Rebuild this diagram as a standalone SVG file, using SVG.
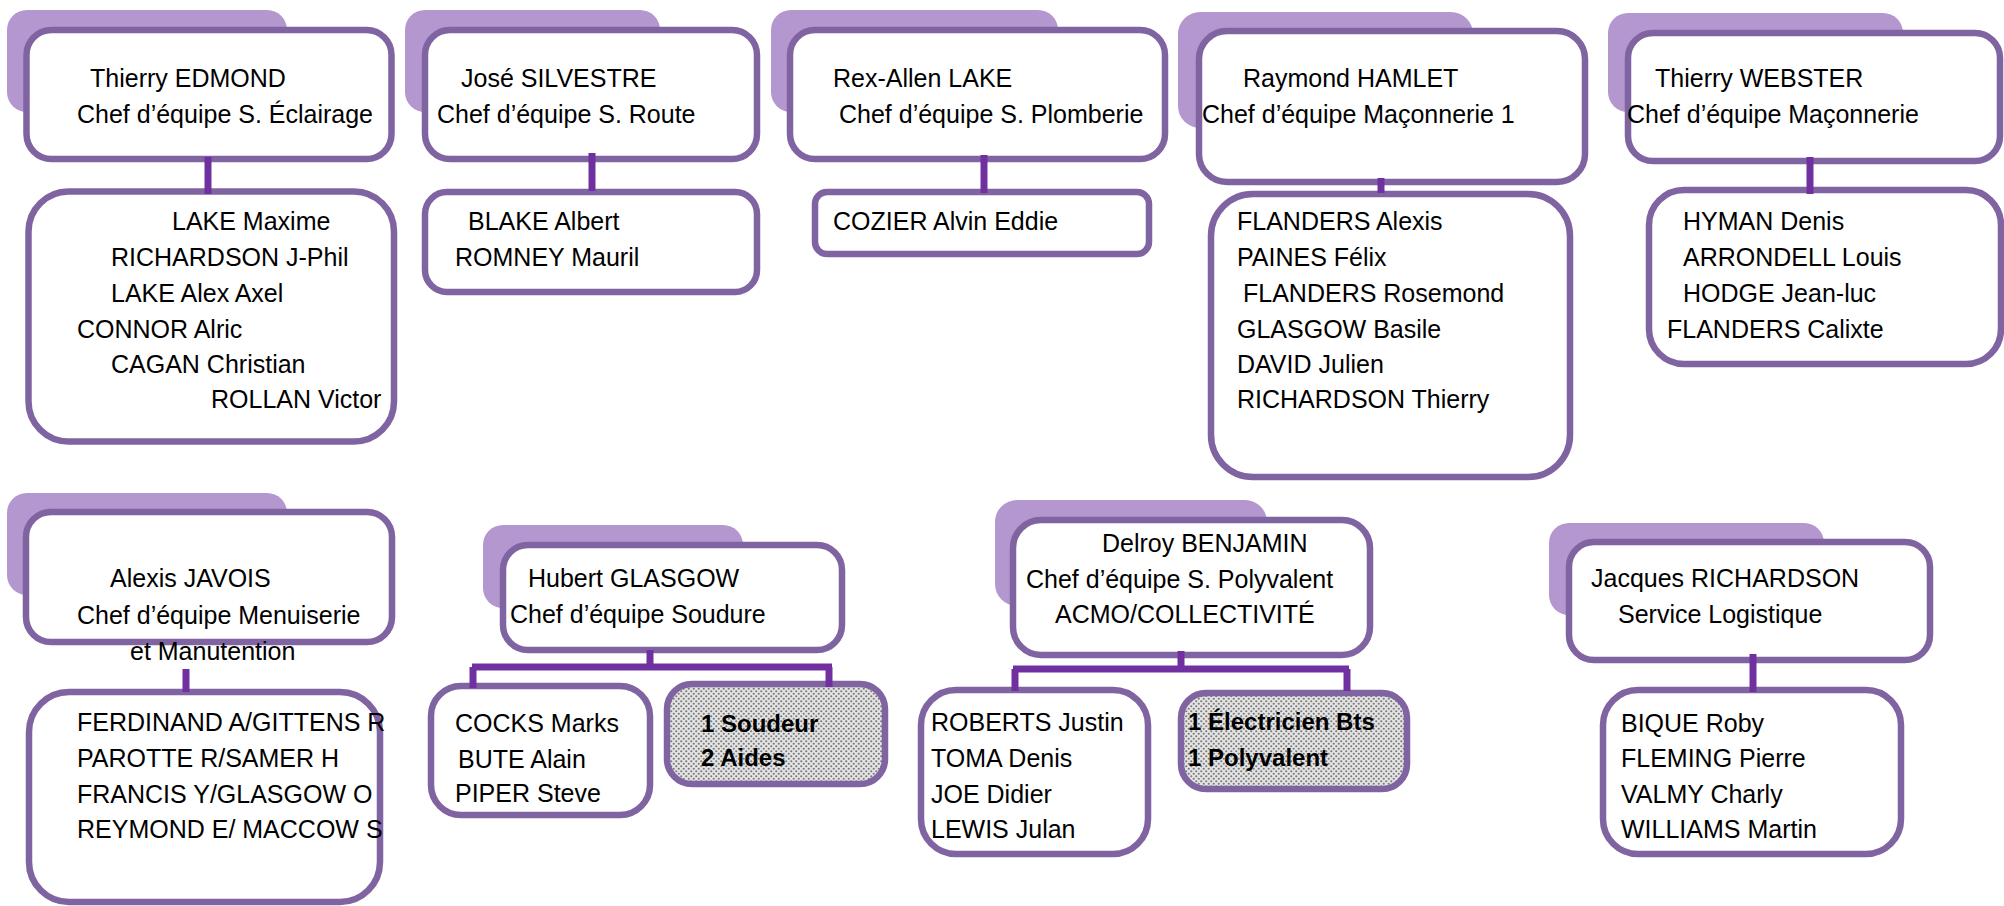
<svg xmlns="http://www.w3.org/2000/svg" width="2004" height="906" viewBox="0 0 2004 906">
<style>
.shadow{fill:#B497CE}
.box{fill:#fff;stroke:#8064A2;stroke-width:6.5}
.pat{fill:url(#dots);stroke:#8064A2;stroke-width:6.5}
.conn{stroke:#7030A0;stroke-width:7;fill:none}
text{font-family:"Liberation Sans",Arial,sans-serif;font-size:25px;fill:#000}
.b{font-weight:bold;font-size:24px}
</style>
<defs>
<pattern id="dots" width="5" height="5" patternUnits="userSpaceOnUse">
<rect width="5" height="5" fill="#e4e4e4"/>
<circle cx="1.25" cy="1.25" r="1.1" fill="#7a7a7a"/>
<circle cx="3.75" cy="3.75" r="1.1" fill="#7a7a7a"/>
</pattern>
</defs>
<rect width="2004" height="906" fill="#fff"/>

<g id="edmond">
<rect class="shadow" x="7" y="10" width="280" height="102" rx="20"/>
<rect class="box" x="26.5" y="30" width="365" height="129" rx="25"/>
<text x="90" y="87">Thierry EDMOND</text>
<text x="77" y="123">Chef d’équipe S. Éclairage</text>
</g>
<g id="edmond-team">
<rect class="box" x="28.5" y="191.5" width="365.5" height="250" rx="40"/>
<text x="172" y="230">LAKE Maxime</text>
<text x="111" y="266">RICHARDSON J-Phil</text>
<text x="111" y="302">LAKE Alex Axel</text>
<text x="77" y="338">CONNOR Alric</text>
<text x="111" y="373">CAGAN Christian</text>
<text x="211" y="408">ROLLAN Victor</text>
</g>

<g id="silvestre">
<rect class="shadow" x="405" y="10" width="255" height="102" rx="20"/>
<rect class="box" x="425" y="30" width="332" height="129" rx="25"/>
<text x="461" y="87">José SILVESTRE</text>
<text x="437" y="123">Chef d’équipe S. Route</text>
</g>
<g id="silvestre-team">
<rect class="box" x="425" y="192" width="332" height="100" rx="22"/>
<text x="468" y="230">BLAKE Albert</text>
<text x="455" y="266">ROMNEY Mauril</text>
</g>

<g id="lake">
<rect class="shadow" x="771" y="10" width="287" height="102" rx="20"/>
<rect class="box" x="790" y="30" width="375" height="129" rx="25"/>
<text x="833" y="87">Rex-Allen LAKE</text>
<text x="839" y="123">Chef d’équipe S. Plomberie</text>
</g>
<g id="lake-team">
<rect class="box" x="815" y="192" width="334" height="62" rx="12"/>
<text x="833" y="230">COZIER Alvin Eddie</text>
</g>

<g id="hamlet">
<rect class="shadow" x="1178" y="12" width="295" height="116" rx="22"/>
<rect class="box" x="1199" y="31" width="386" height="151" rx="28"/>
<text x="1243" y="87">Raymond HAMLET</text>
<text x="1202" y="123">Chef d’équipe Maçonnerie 1</text>
</g>
<g id="hamlet-team">
<rect class="box" x="1211" y="194" width="359" height="283" rx="42"/>
<text x="1237" y="230">FLANDERS Alexis</text>
<text x="1237" y="266">PAINES Félix</text>
<text x="1243" y="302">FLANDERS Rosemond</text>
<text x="1237" y="338">GLASGOW Basile</text>
<text x="1237" y="373">DAVID Julien</text>
<text x="1237" y="408">RICHARDSON Thierry</text>
</g>

<g id="webster">
<rect class="shadow" x="1608" y="13" width="295" height="99" rx="20"/>
<rect class="box" x="1628" y="33" width="372" height="128" rx="25"/>
<text x="1655" y="87">Thierry WEBSTER</text>
<text x="1627" y="123">Chef d’équipe Maçonnerie</text>
</g>
<g id="webster-team">
<rect class="box" x="1649" y="190" width="352" height="174" rx="35"/>
<text x="1683" y="230">HYMAN Denis</text>
<text x="1683" y="266">ARRONDELL Louis</text>
<text x="1683" y="302">HODGE Jean-luc</text>
<text x="1667" y="338">FLANDERS Calixte</text>
</g>

<g id="javois">
<rect class="shadow" x="7" y="493" width="280" height="102" rx="20"/>
<rect class="box" x="26" y="512" width="366" height="130" rx="25"/>
<text x="110" y="587">Alexis JAVOIS</text>
<text x="77" y="624">Chef d’équipe Menuiserie</text>
<text x="130" y="660">et Manutention</text>
</g>
<g id="javois-team">
<rect class="box" x="29" y="692" width="351" height="210" rx="40"/>
<text x="77" y="731">FERDINAND A/GITTENS R</text>
<text x="77" y="767">PAROTTE R/SAMER H</text>
<text x="77" y="803">FRANCIS Y/GLASGOW O</text>
<text x="77" y="838">REYMOND E/ MACCOW S</text>
</g>

<g id="glasgow">
<rect class="shadow" x="483" y="525" width="260" height="83" rx="20"/>
<rect class="box" x="503" y="545" width="339" height="105" rx="25"/>
<text x="528" y="587">Hubert GLASGOW</text>
<text x="510" y="623">Chef d’équipe Soudure</text>
</g>
<g id="glasgow-team">
<rect class="box" x="431" y="686" width="219" height="129" rx="30"/>
<text x="455" y="732">COCKS Marks</text>
<text x="458" y="768">BUTE Alain</text>
<text x="455" y="802">PIPER Steve</text>
</g>
<g id="glasgow-needs">
<rect class="pat" x="667" y="684" width="218" height="100" rx="25"/>
<text class="b" x="701" y="732">1 Soudeur</text>
<text class="b" x="701" y="766">2 Aides</text>
</g>

<g id="benjamin">
<rect class="shadow" x="995" y="500" width="272" height="106" rx="22"/>
<rect class="box" x="1013" y="520" width="357" height="135" rx="28"/>
<text x="1102" y="552">Delroy BENJAMIN</text>
<text x="1026" y="588">Chef d’équipe S. Polyvalent</text>
<text x="1055" y="623">ACMO/COLLECTIVITÉ</text>
</g>
<g id="benjamin-team">
<rect class="box" x="921" y="690" width="227" height="164" rx="35"/>
<text x="931" y="731">ROBERTS Justin</text>
<text x="931" y="767">TOMA Denis</text>
<text x="931" y="803">JOE Didier</text>
<text x="931" y="838">LEWIS Julan</text>
</g>
<g id="benjamin-needs">
<rect class="pat" x="1181" y="693" width="226" height="96" rx="25"/>
<text class="b" x="1188" y="730">1 Électricien Bts</text>
<text class="b" x="1188" y="766">1 Polyvalent</text>
</g>

<g id="richardson">
<rect class="shadow" x="1549" y="523" width="275" height="92" rx="20"/>
<rect class="box" x="1569" y="542" width="361" height="118" rx="25"/>
<text x="1591" y="587">Jacques RICHARDSON</text>
<text x="1618" y="623">Service Logistique</text>
</g>
<g id="richardson-team">
<rect class="box" x="1603" y="690" width="298" height="164" rx="35"/>
<text x="1621" y="732">BIQUE Roby</text>
<text x="1621" y="767">FLEMING Pierre</text>
<text x="1621" y="803">VALMY Charly</text>
<text x="1621" y="838">WILLIAMS Martin</text>
</g>

<g id="connectors" class="conn">
<path d="M208 157V194"/>
<path d="M592 153V191"/>
<path d="M984 155V193"/>
<path d="M1381 178V193"/>
<path d="M1810 157V194"/>
<path d="M186 669V692"/>
<path d="M650 650V667M472 667H832M473 667V688M829 667V687"/>
<path d="M1181 651V669M1013 669H1349M1015 669V691M1347 669V691"/>
<path d="M1753 654V692"/>
</g>
</svg>
